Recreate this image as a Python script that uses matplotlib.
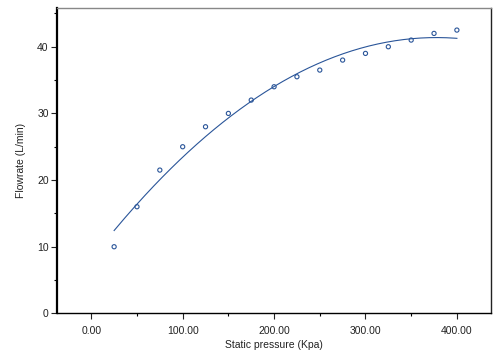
import matplotlib

matplotlib.use("Agg")
import matplotlib.pyplot as plt
import numpy as np
from matplotlib.ticker import MultipleLocator, FormatStrFormatter

pressure_kpa = [25, 50, 75, 100, 125, 150, 175, 200, 225, 250, 275, 300, 325, 350, 375, 400]
flowrate_lmin = [10.0, 16.0, 21.5, 25.0, 28.0, 30.0, 32.0, 34.0, 35.5, 36.5, 38.0, 39.0, 40.0, 41.0, 42.0, 42.5]

_BLUE = "#2a5599"

plt.rcParams["font.family"] = ["Liberation Sans", "DejaVu Sans"]

fig = plt.figure(figsize=(5.0, 3.59), dpi=100)
ax = fig.add_axes([0.114, 0.127, 0.8674, 0.8505])

x = np.array(pressure_kpa, dtype=float)
y = np.array(flowrate_lmin, dtype=float)

# quadratic fit, as in the original curve-estimation plot
coef = np.polyfit(x, y, 2)
x_line = np.linspace(x.min(), x.max(), 200)
ax.plot(x_line, np.polyval(coef, x_line), color=_BLUE, lw=0.8)

ax.scatter(x, y, s=9, facecolors="none", edgecolors=_BLUE, linewidths=0.8, zorder=3)

ax.set_xlim(-37.5, 437)
ax.set_ylim(0, 45.8)
ax.xaxis.set_major_locator(MultipleLocator(100))
ax.xaxis.set_minor_locator(MultipleLocator(50))
ax.xaxis.set_major_formatter(FormatStrFormatter("%.2f"))
ax.yaxis.set_major_locator(MultipleLocator(10))
ax.yaxis.set_minor_locator(MultipleLocator(5))

ax.tick_params(axis="both", which="major", direction="out", length=4, width=0.8,
               labelsize=7.5, colors="#222222", pad=5)
ax.tick_params(axis="both", which="minor", direction="out", length=2.5, width=0.8)
ax.tick_params(axis="y", which="major", pad=2)

ax.spines["left"].set_linewidth(1.6)
ax.spines["left"].set_color("black")
ax.spines["bottom"].set_linewidth(1.0)
ax.spines["bottom"].set_color("black")
ax.spines["top"].set_linewidth(1.0)
ax.spines["top"].set_color("#888888")
ax.spines["right"].set_linewidth(1.0)
ax.spines["right"].set_color("#222222")

ax.set_xlabel("Static pressure (Kpa)", fontsize=7.5, color="#222222", labelpad=3)
ax.set_ylabel("Flowrate (L/min)", fontsize=7.5, color="#222222", labelpad=8)

fig.savefig("out.png", dpi=100)
